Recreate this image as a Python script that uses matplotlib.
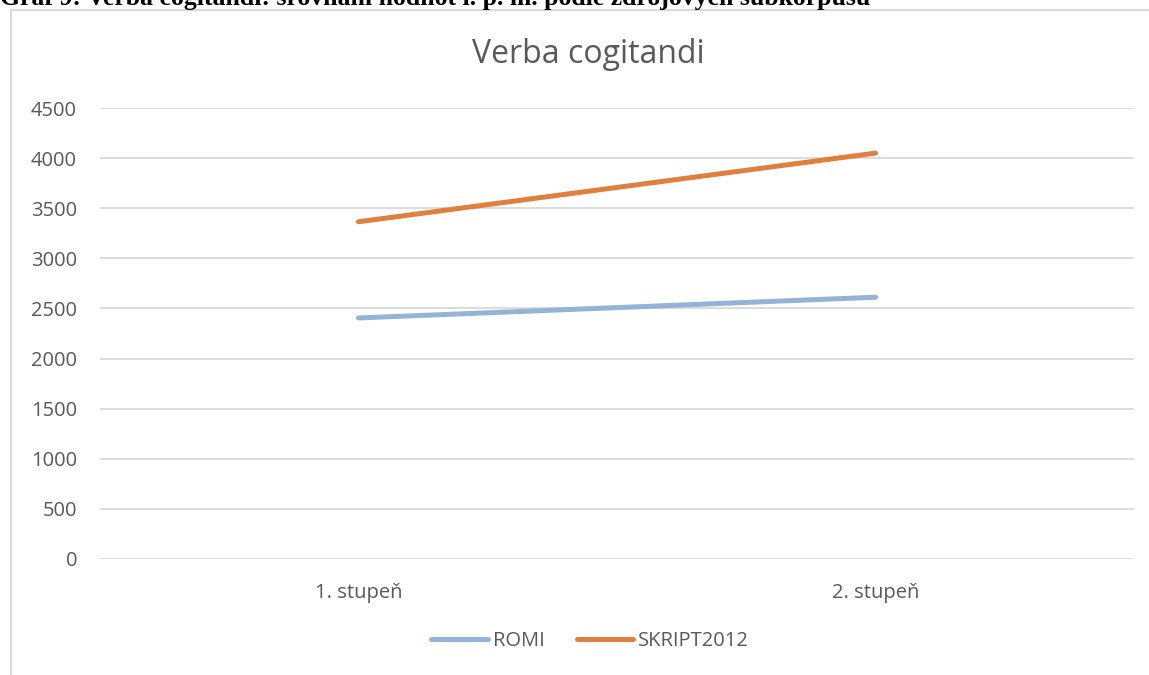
import matplotlib.pyplot as plt
from matplotlib.patches import Rectangle

categories = ["1. stupeň", "2. stupeň"]
romi = [2405, 2612]
skript = [3365, 4050]
yticks = [0, 500, 1000, 1500, 2000, 2500, 3000, 3500, 4000, 4500]

W, H = 1149, 675
fig = plt.figure(figsize=(W / 100, H / 100), dpi=100)
fig.patch.set_facecolor("white")

# chart frame (runs off the right/bottom edge like in the source)
frame = Rectangle((11 / W, -0.1), 1.2, 1 - 10 / H + 0.1, transform=fig.transFigure,
                  fill=False, edgecolor="#d9d9d9", linewidth=1.5)
fig.patches.append(frame)

fig.text(0.0, 1 - 5 / H, "Graf 9: Verba cogitandi: srovnání hodnot i. p. m. podle zdrojových subkorpusů",
         family="Liberation Serif", weight="bold", fontsize=18.5, va="baseline", ha="left")

ax = fig.add_axes([100 / W, 1 - 559 / H, 1034 / W, 451 / H])
x = [0, 1]
ax.plot(x, romi, color="#95b3d7", lw=3.6, solid_capstyle="round", label="ROMI")
ax.plot(x, skript, color="#e0803f", lw=3.6, solid_capstyle="round", label="SKRIPT2012")

ax.set_xlim(-0.5, 1.5)
ax.set_ylim(0, 4500)
ax.set_yticks(yticks)
ax.set_xticks(x)
ax.set_xticklabels(categories)
ax.grid(axis="y", color="#d9d9d9", lw=1.3)
ax.set_axisbelow(True)
for s in ax.spines.values():
    s.set_visible(False)
ax.tick_params(axis="both", length=0, labelsize=14.5, labelcolor="#595959")
ax.tick_params(axis="y", pad=16.5)
ax.tick_params(axis="x", pad=17)
for lbl in ax.get_xticklabels() + ax.get_yticklabels():
    lbl.set_family("Open Sans")

fig.text(588 / W, 1 - 63 / H, "Verba cogitandi", family="Open Sans", fontsize=23,
         color="#595959", ha="center", va="baseline")

fig.legend(loc="center", bbox_to_anchor=(590 / W, 1 - 641 / H), ncol=2, frameon=False,
           prop={"family": "Open Sans", "size": 14.5}, handlelength=2.8, handletextpad=0.25,
           columnspacing=1.6, labelcolor="#595959")

fig.savefig("out.png", dpi=100)
